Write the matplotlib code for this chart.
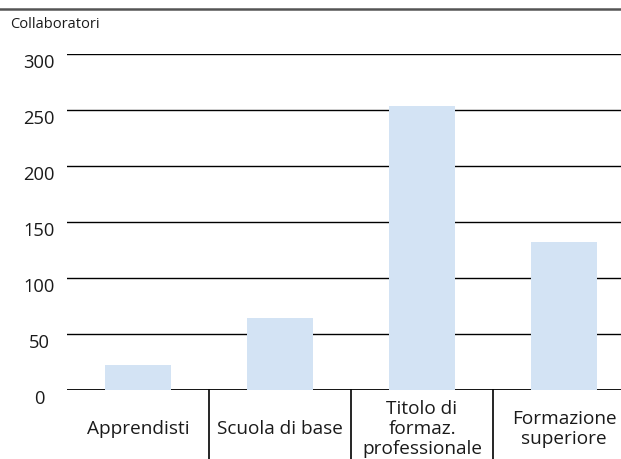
import matplotlib.pyplot as plt
from matplotlib.lines import Line2D

plt.rcParams['font.family'] = ['Open Sans', 'DejaVu Sans']

# dati
categorie = ["Apprendisti", "Scuola di base", "Titolo di\nformaz.\nprofessionale", "Formazione\nsuperiore"]
collaboratori = [22, 64, 254, 132]
yticks = [0, 50, 100, 150, 200, 250, 300]
colore = "#D3E3F4"

W, H = 621, 459
fig = plt.figure(figsize=(W / 100, H / 100), dpi=100)
# asse che continua oltre il bordo destro, come nell'originale
ax = fig.add_axes([67 / W, (H - 390) / H, 568 / W, 335.6 / H])

x = range(len(categorie))
ax.bar(x, collaboratori, width=0.465, color=colore, zorder=2)
for t in yticks:
    ax.axhline(t, color="black", lw=1.3 if t == 0 else 1.0, zorder=1)

ax.set_xlim(-0.5, len(categorie) - 0.5)
ax.set_ylim(0, 300)
for s in ax.spines.values():
    s.set_visible(False)
ax.set_xticks([])
ax.set_yticks(yticks)
ax.tick_params(axis="y", length=0, pad=20, labelsize=13.2, labelcolor="#1a1a1a")
for lab in ax.get_yticklabels():
    lab.set_ha("center")
    lab.set_va("top")

# etichette categorie e separatori
for i, c in enumerate(categorie):
    ax.annotate(c, xy=(i, 0), xycoords="data", xytext=(0, -39),
                textcoords="offset pixels", ha="center", va="center", color="#1a1a1a",
                fontsize=13.7, linespacing=1.12, annotation_clip=False)
for i in range(1, len(categorie)):
    ax.add_line(Line2D([i - 0.5, i - 0.5], [0, -80], color="black", lw=1.2, clip_on=False))

fig.text(10 / W, 1 - 25 / H, "Collaboratori", fontsize=10.5, va="center", ha="left", color="#1a1a1a")
fig.add_artist(Line2D([0, 1], [1 - 9 / H, 1 - 9 / H], color="#555555", lw=1.8))

fig.savefig("out.png", dpi=100)
